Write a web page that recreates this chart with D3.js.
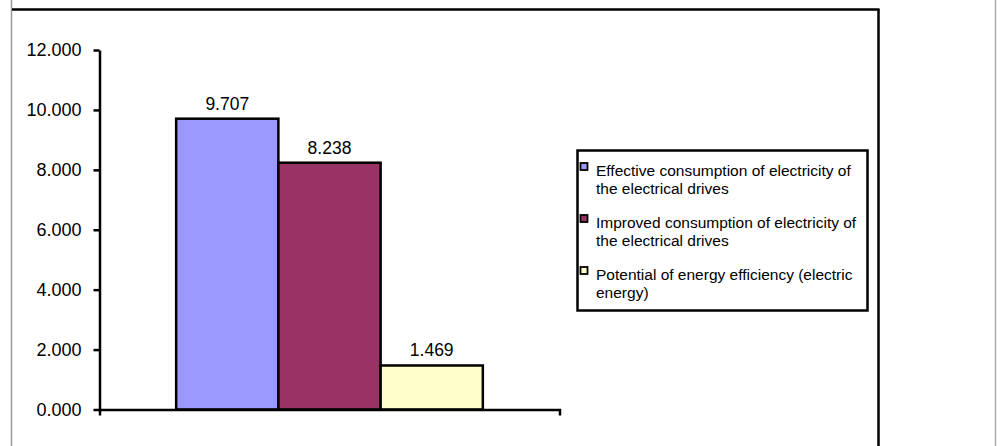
<!DOCTYPE html>
<html><head><meta charset="utf-8">
<script src="https://cdn.jsdelivr.net/npm/d3@7"></script>
<style>html,body{margin:0;padding:0;background:#fff;}svg{display:block;font-family:"Liberation Sans",Arial,sans-serif;}</style>
</head><body>
<svg id="c" width="1000" height="446"></svg>
<script>
const categories = ["Electrical drives"];
const seriesNames = ["Effective consumption of electricity of the electrical drives",
                     "Improved consumption of electricity of the electrical drives",
                     "Potential of energy efficiency (electric energy)"];
const seriesValues = [9.707, 8.238, 1.469];
const seriesColors = ["#9999FF", "#993366", "#FFFFCC"];
const yTicks = [0, 2, 4, 6, 8, 10, 12];
const legendLines = [["Effective consumption of electricity of", "the electrical drives"],
                     ["Improved consumption of electricity of", "the electrical drives"],
                     ["Potential of energy efficiency (electric", "energy)"]];

const svg = d3.select("#c");
// outer frame
svg.append("line").attr("x1",11.5).attr("x2",11.5).attr("y1",0).attr("y2",446).attr("stroke","#999").attr("stroke-width",1.5);
svg.append("line").attr("x1",995.5).attr("x2",995.5).attr("y1",0).attr("y2",446).attr("stroke","#aaa").attr("stroke-width",1.5);
svg.append("line").attr("x1",12).attr("x2",879.5).attr("y1",9.5).attr("y2",9.5).attr("stroke","#000").attr("stroke-width",2.5);
svg.append("line").attr("x1",878.5).attr("x2",878.5).attr("y1",9).attr("y2",446).attr("stroke","#000").attr("stroke-width",2.5);

const x0 = d3.scaleBand().domain(categories).range([99.5, 559.5]).paddingInner(0).paddingOuter(0);
const y = d3.scaleLinear().domain([0, 12]).range([409.5, 50]);
const x1 = d3.scaleBand().domain(d3.range(seriesValues.length)).range([0, x0.bandwidth()]).paddingOuter(0.75).paddingInner(0);

const g = svg.append("g");
categories.forEach(c => {
  seriesValues.forEach((v, i) => {
    g.append("rect")
      .attr("x", x0(c) + x1(i)).attr("y", y(v))
      .attr("width", x1.bandwidth()).attr("height", y(0) - y(v))
      .attr("fill", seriesColors[i]).attr("stroke", "#000").attr("stroke-width", 2.5);
    g.append("text")
      .attr("x", x0(c) + x1(i) + x1.bandwidth()/2).attr("y", y(v) - 9)
      .attr("text-anchor", "middle").attr("font-size", 17.5).attr("fill", "#000")
      .text(d3.format(".3f")(v));
  });
});

// y axis
const yAxis = d3.axisLeft(y).tickValues(yTicks).tickFormat(d3.format(".3f")).tickSize(6).tickSizeOuter(0);
const ya = svg.append("g").attr("transform", "translate(99.5,0)").call(yAxis);
ya.select(".domain").attr("stroke", "#000").attr("stroke-width", 2.5);
ya.selectAll(".tick line").attr("stroke", "#000").attr("stroke-width", 2.5);
ya.selectAll(".tick text").attr("font-size", 18).attr("font-family", "Liberation Sans, Arial, sans-serif").attr("fill", "#000").attr("x", -18);

// x axis
const xAxis = d3.axisBottom(x0).tickValues([]).tickSizeOuter(6);
const xa = svg.append("g").attr("transform", "translate(0,409.5)").call(xAxis);
xa.select(".domain").attr("stroke", "#000").attr("stroke-width", 2.5).attr("fill","none");

// legend
const lg = svg.append("g");
lg.append("rect").attr("x", 577.5).attr("y", 150.5).attr("width", 290).attr("height", 160)
  .attr("fill", "#fff").attr("stroke", "#000").attr("stroke-width", 2.5);
legendLines.forEach((lines, i) => {
  const ty = 176 + i * 52;
  lg.append("rect").attr("x", 580.5).attr("y", ty - 13).attr("width", 7).attr("height", 7)
    .attr("fill", seriesColors[i]).attr("stroke", "#000").attr("stroke-width", 1.8);
  lines.forEach((t, j) => {
    lg.append("text").attr("x", 596).attr("y", ty + j * 17.5).attr("font-size", 15.5).attr("fill", "#000").text(t);
  });
});
</script>
</body></html>
